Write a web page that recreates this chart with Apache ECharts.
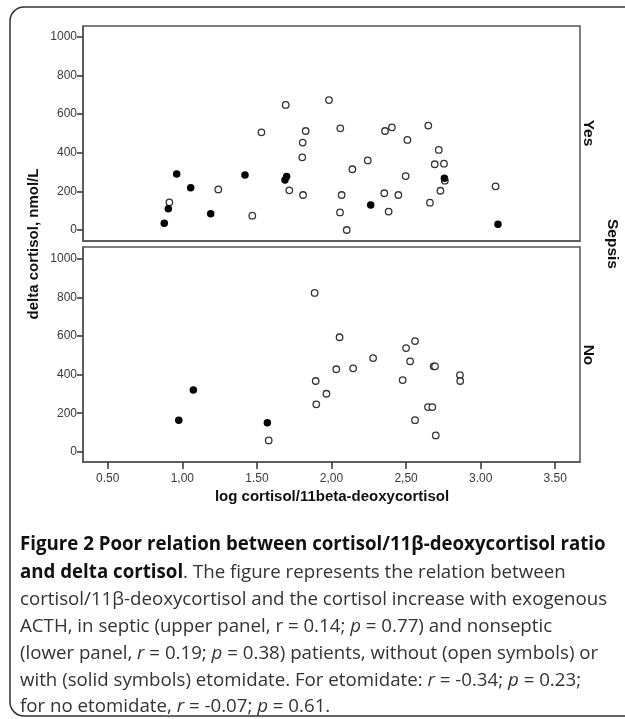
<!DOCTYPE html>
<html>
<head>
<meta charset="utf-8">
<script src="https://cdn.jsdelivr.net/npm/echarts@6/dist/echarts.min.js"></script>
<style>
html,body{margin:0;padding:0;background:#fff;}
#chart{width:625px;height:719px;}
</style>
</head>
<body>
<div id="chart"></div>
<script>
// ---- data (x = log cortisol/11beta-deoxycortisol, y = delta cortisol nmol/L) ----
const xTickValues = [0.5, 1, 1.5, 2, 2.5, 3, 3.5];
const xTickLabels = ['0.50', '1,00', '1.50', '2,00', '2,50', '3.00', '3.50'];
const yTickValues = [0, 200, 400, 600, 800, 1000];

// Sepsis = Yes (upper panel)
const sepsisYesOpen = [
  [0.913, 143], [1.241, 210], [1.469, 74], [1.530, 505], [1.693, 647], [1.717, 205],
  [1.827, 512], [1.807, 452], [1.804, 376], [1.809, 181], [1.983, 672], [2.059, 526],
  [2.068, 181], [2.057, 91], [2.102, 0], [2.140, 314], [2.243, 360], [2.359, 512],
  [2.405, 531], [2.354, 190], [2.448, 181], [2.383, 95], [2.509, 466], [2.497, 279],
  [2.649, 540], [2.719, 414], [2.692, 340], [2.754, 343], [2.730, 203], [2.660, 141],
  [3.100, 226], [2.760, 255]
];
const sepsisYesSolid = [
  [0.879, 35], [0.906, 110], [0.962, 290], [1.056, 219], [1.190, 84], [1.420, 285],
  [1.688, 259], [1.699, 276], [2.263, 129], [2.757, 267], [3.116, 29]
];
// Sepsis = No (lower panel)
const sepsisNoOpen = [
  [1.579, 59], [1.887, 824], [1.894, 367], [1.898, 246], [2.054, 594], [1.966, 301],
  [2.032, 428], [2.145, 433], [2.279, 486], [2.500, 538], [2.560, 574], [2.527, 469],
  [2.477, 372], [2.685, 443], [2.694, 443], [2.861, 398], [2.863, 367], [2.647, 232],
  [2.676, 232], [2.560, 164], [2.699, 85]
];
const sepsisNoSolid = [
  [0.976, 164], [1.074, 320], [1.570, 151]
];

const panelLabels = ['Yes', 'No'];

const axisColor = '#555';
const textColor = '#3a3a3a';
const chartFont = 'Arial, "Liberation Sans", sans-serif';

function xLabel(v) {
  const i = xTickValues.findIndex(t => Math.abs(t - v) < 1e-6);
  return i >= 0 ? xTickLabels[i] : '';
}

const grids = [
  {left: 83, top: 26, width: 497, height: 215},
  {left: 83, top: 247, width: 497, height: 215}
].map(g => Object.assign({show: true, borderColor: axisColor, borderWidth: 1.5, backgroundColor: '#fff', containLabel: false}, g));

const yRanges = [[-57, 1055], [-53, 1062]];

const xAxes = [0, 1].map(i => ({
  type: 'value', gridIndex: i, min: 0.334, max: 3.666,
  axisLine: {show: true, onZero: false, lineStyle: {color: axisColor, width: 1.5}},
  splitLine: {show: false},
  axisTick: {show: i === 1, customValues: xTickValues, length: 7, lineStyle: {color: '#333', width: 1.5}},
  axisLabel: {show: i === 1, customValues: xTickValues, formatter: xLabel, color: textColor, fontSize: 12, fontFamily: chartFont, margin: 11}
}));

const yAxes = [0, 1].map(i => ({
  type: 'value', gridIndex: i, min: yRanges[i][0], max: yRanges[i][1],
  axisLine: {show: true, onZero: false, lineStyle: {color: axisColor, width: 1.5}},
  splitLine: {show: false},
  axisTick: {show: true, customValues: yTickValues, length: 6, lineStyle: {color: '#333', width: 1.5}},
  axisLabel: {show: true, customValues: yTickValues, formatter: v => String(Math.round(v)), color: textColor, fontSize: 12, fontFamily: chartFont, margin: 6}
}));

function openSeries(data, idx) {
  return {type: 'scatter', xAxisIndex: idx, yAxisIndex: idx, data: data, symbol: 'circle', symbolSize: 6.5,
    itemStyle: {color: '#fff', borderColor: '#333', borderWidth: 1.3, opacity: 1}, z: 2};
}
function solidSeries(data, idx) {
  return {type: 'scatter', xAxisIndex: idx, yAxisIndex: idx, data: data, symbol: 'circle', symbolSize: 7.5,
    itemStyle: {color: '#000', opacity: 1}, z: 3};
}

const captionFont = '"Open Sans", sans-serif';
const capSize = 18.7;
const rich = {
  b: {fontFamily: captionFont, fontSize: capSize, fontWeight: 'bold', fill: '#111'},
  n: {fontFamily: captionFont, fontSize: capSize, fill: '#333'},
  i: {fontFamily: captionFont, fontSize: capSize, fontStyle: 'italic', fill: '#333'}
};
const captionLines = [
  '{b|Figure 2 Poor relation between cortisol/11β-deoxycortisol ratio}',
  '{b|and delta cortisol}{n|. The figure represents the relation between}',
  '{n|cortisol/11β-deoxycortisol and the cortisol increase with exogenous}',
  '{n|ACTH, in septic (upper panel, r = 0.14; }{i|p}{n| = 0.77) and nonseptic}',
  '{n|(lower panel, }{i|r}{n| = 0.19; }{i|p}{n| = 0.38) patients, without (open symbols) or}',
  '{n|with (solid symbols) etomidate. For etomidate: }{i|r}{n| = -0.34; }{i|p}{n| = 0.23;}',
  '{n|for no etomidate, }{i|r}{n| = -0.07; }{i|p}{n| = 0.61.}'
];
const captionY = [545, 573, 600, 627, 654, 681, 707];

const graphics = [
  {type: 'rect', shape: {x: 10, y: 7, width: 640, height: 709, r: 14}, style: {fill: 'none', stroke: '#333', lineWidth: 1.5}, silent: true, z: 0},
  {type: 'text', x: 34, y: 244, rotation: Math.PI / 2,
    style: {text: 'delta cortisol, nmol/L', font: 'bold 15px ' + chartFont, fill: '#111', textAlign: 'center', textVerticalAlign: 'middle'}},
  {type: 'text', x: 332, y: 497,
    style: {text: 'log cortisol/11beta-deoxycortisol', font: 'bold 15px ' + chartFont, fill: '#111', textAlign: 'center', textVerticalAlign: 'middle'}},
  {type: 'text', x: 588, y: 133, rotation: -Math.PI / 2,
    style: {text: panelLabels[0], font: 'bold 15.5px ' + chartFont, fill: '#111', textAlign: 'center', textVerticalAlign: 'middle'}},
  {type: 'text', x: 588, y: 355, rotation: -Math.PI / 2,
    style: {text: panelLabels[1], font: 'bold 15.5px ' + chartFont, fill: '#111', textAlign: 'center', textVerticalAlign: 'middle'}},
  {type: 'text', x: 612, y: 244, rotation: -Math.PI / 2,
    style: {text: 'Sepsis', font: 'bold 15.5px ' + chartFont, fill: '#111', textAlign: 'center', textVerticalAlign: 'middle'}}
];
captionLines.forEach((t, k) => {
  graphics.push({type: 'text', x: 20, y: captionY[k],
    style: {text: t, rich: rich, textAlign: 'left', textVerticalAlign: 'middle', font: capSize + 'px ' + captionFont, fill: '#333'}});
});

const chart = echarts.init(document.getElementById('chart'), null, {renderer: 'canvas'});
chart.setOption({
  animation: false,
  backgroundColor: '#fff',
  grid: grids,
  xAxis: xAxes,
  yAxis: yAxes,
  series: [
    openSeries(sepsisYesOpen, 0), solidSeries(sepsisYesSolid, 0),
    openSeries(sepsisNoOpen, 1), solidSeries(sepsisNoSolid, 1)
  ],
  graphic: graphics
});
</script>
</body>
</html>
